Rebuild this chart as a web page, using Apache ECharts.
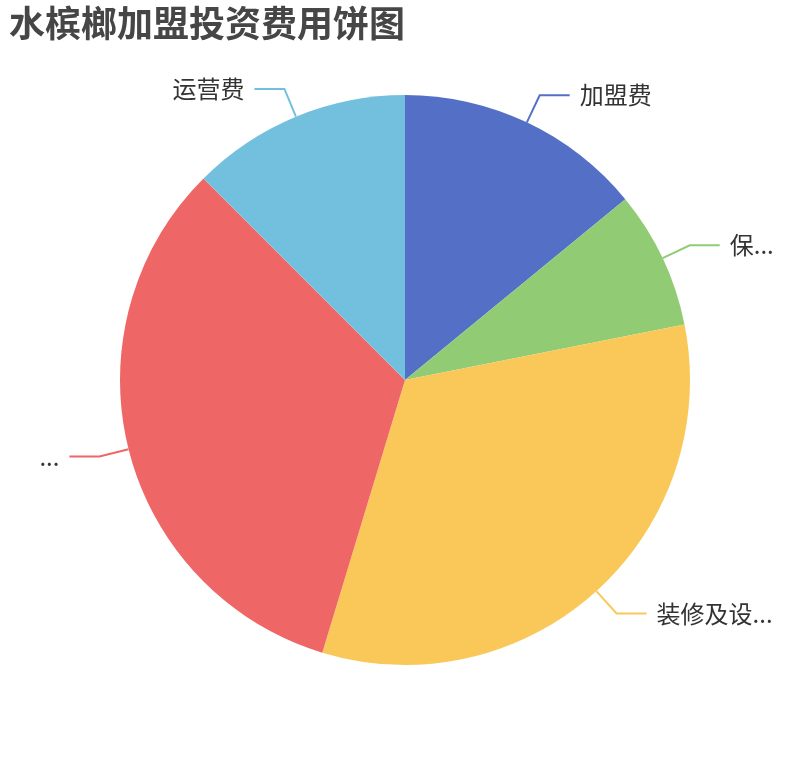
<!DOCTYPE html>
<html>
<head>
<meta charset="utf-8">
<title>水槟榔加盟投资费用饼图</title>
<script src="https://cdn.jsdelivr.net/npm/echarts@6/dist/echarts.min.js"></script>
<style>
  html, body { margin: 0; padding: 0; background: #fff; }
  #chart { width: 810px; height: 760px; }
</style>
</head>
<body>
<div id="chart"></div>
<script>
// 费用项目（千元）
const costNames = ['加盟费', '保证金', '装修及设备费用', '首批进货及原料费用', '运营费']
const costValues = [9, 5, 21, 21, 8]
const colors = ['#5470c6', '#91cc75', '#fac858', '#ee6666', '#73c0de']

const chart = echarts.init(document.getElementById('chart'))
const option = {
  color: colors,
  title: {
    text: '水槟榔加盟投资费用饼图',
    left: 4,
    top: 0,
    textStyle: {
      fontFamily: 'Noto Sans CJK SC',
      fontSize: 36,
      fontWeight: 'bold',
      color: '#464646'
    }
  },
  series: [{
    type: 'pie',
    left: 24,
    right: 24,
    radius: '75%',
    center: ['50%', '50%'],
    startAngle: 90,
    clockwise: true,
    data: costNames.map((name, i) => ({ name, value: costValues[i] })),
    label: {
      fontFamily: 'Noto Sans CJK SC',
      fontSize: 24,
      color: '#333',
      distanceToLabelLine: 10
    },
    labelLine: {
      length: 30,
      length2: 30,
      lineStyle: {
        width: 2
      }
    }
  }]
}
chart.setOption(option)
window.addEventListener('resize', () => chart.resize())
</script>
</body>
</html>
